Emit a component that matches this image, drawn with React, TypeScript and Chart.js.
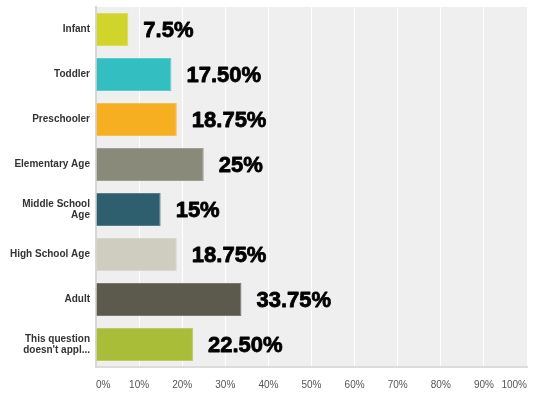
import React, { useEffect, useRef } from "react";
import { Chart, registerables } from "chart.js";

Chart.register(...registerables);

const categories: (string | string[])[] = [
  "Infant",
  "Toddler",
  "Preschooler",
  "Elementary Age",
  ["Middle School", "Age"],
  "High School Age",
  "Adult",
  ["This question", "doesn't appl..."],
];
const values: number[] = [7.5, 17.5, 18.75, 25, 15, 18.75, 33.75, 22.5];
const valueLabels: string[] = ["7.5%", "17.50%", "18.75%", "25%", "15%", "18.75%", "33.75%", "22.50%"];
const barColors: string[] = ["#d1d52b", "#33bec1", "#f7af22", "#898a7a", "#2e5f6e", "#cfcdbf", "#5c5a4d", "#a9bd38"];
const barBorders: string[] = ["#dadd5a", "#5ccbcd", "#f8bf50", "#9e9f92", "#587e8a", "#d9d7cc", "#7a786d", "#bccb62"];
const xTicks: number[] = [0, 10, 20, 30, 40, 50, 60, 70, 80, 90, 100];

const plotBg = {
  id: "plotBg",
  beforeDraw(chart: any) {
    const { ctx, chartArea } = chart;
    ctx.save();
    ctx.fillStyle = "#efefef";
    ctx.fillRect(chartArea.left, chartArea.top, chartArea.right - chartArea.left, chartArea.bottom - chartArea.top);
    ctx.restore();
  },
};

const valueLabelPlugin = {
  id: "valueLabels",
  afterDatasetsDraw(chart: any) {
    const { ctx } = chart;
    const meta = chart.getDatasetMeta(0);
    ctx.save();
    ctx.font = "bold 22px 'Liberation Sans', Arial, sans-serif";
    ctx.fillStyle = "#000";
    ctx.strokeStyle = "#000";
    ctx.lineWidth = 0.8;
    ctx.lineJoin = "round";
    ctx.textAlign = "left";
    ctx.textBaseline = "middle";
    meta.data.forEach((bar: any, i: number) => {
      ctx.fillText(valueLabels[i], bar.x + 15, bar.y + 1);
      ctx.strokeText(valueLabels[i], bar.x + 15, bar.y + 1);
    });
    ctx.restore();
  },
};

export default function App() {
  const ref = useRef<HTMLCanvasElement>(null);
  useEffect(() => {
    if (!ref.current) return;
    const chart = new Chart(ref.current, {
      type: "bar",
      data: {
        labels: categories,
        datasets: [
          {
            data: values,
            backgroundColor: barColors,
            borderColor: barBorders,
            borderWidth: 1,
            barPercentage: 0.73,
            categoryPercentage: 1,
          },
        ],
      },
      options: {
        indexAxis: "y",
        responsive: false,
        animation: false,
        layout: { padding: { top: 7, right: 9, left: 0, bottom: 0 } },
        plugins: { legend: { display: false }, tooltip: { enabled: false } },
        scales: {
          x: {
            min: 0,
            max: 100,
            afterBuildTicks: (s: any) => {
              s.ticks = xTicks.map((v) => ({ value: v }));
            },
            afterFit: (s: any) => {
              s.height = 30;
              s.paddingLeft = 0;
              s.paddingRight = 0;
              s.paddingTop = 0;
              s.paddingBottom = 0;
            },
            grid: { color: "#ffffff", lineWidth: 1, drawTicks: false },
            border: { display: true, color: "#dcdcdc", width: 2 },
            ticks: {
              align: "inner",
              maxRotation: 0,
              autoSkip: false,
              padding: 12,
              color: "#555",
              font: { family: "'Liberation Sans', Arial, sans-serif", size: 10 },
              callback: (v: any) => v + "%",
            },
          },
          y: {
            afterFit: (s: any) => {
              s.width = 96;
              s.paddingLeft = 0;
              s.paddingRight = 0;
              s.paddingTop = 0;
              s.paddingBottom = 0;
            },
            grid: { display: false, drawTicks: false },
            border: { display: true, color: "#d6d6d6", width: 2 },
            ticks: {
              padding: 6,
              color: "#333",
              font: { family: "'Liberation Sans', Arial, sans-serif", size: 10, weight: "bold", lineHeight: 1.1 },
            },
          },
        },
      },
      plugins: [plotBg, valueLabelPlugin],
    });
    return () => chart.destroy();
  }, []);
  return (
    <div style={{ position: "fixed", left: 0, top: 0, width: 536, height: 397, background: "#fff" }}>
      <canvas ref={ref} width={536} height={397} />
    </div>
  );
}
